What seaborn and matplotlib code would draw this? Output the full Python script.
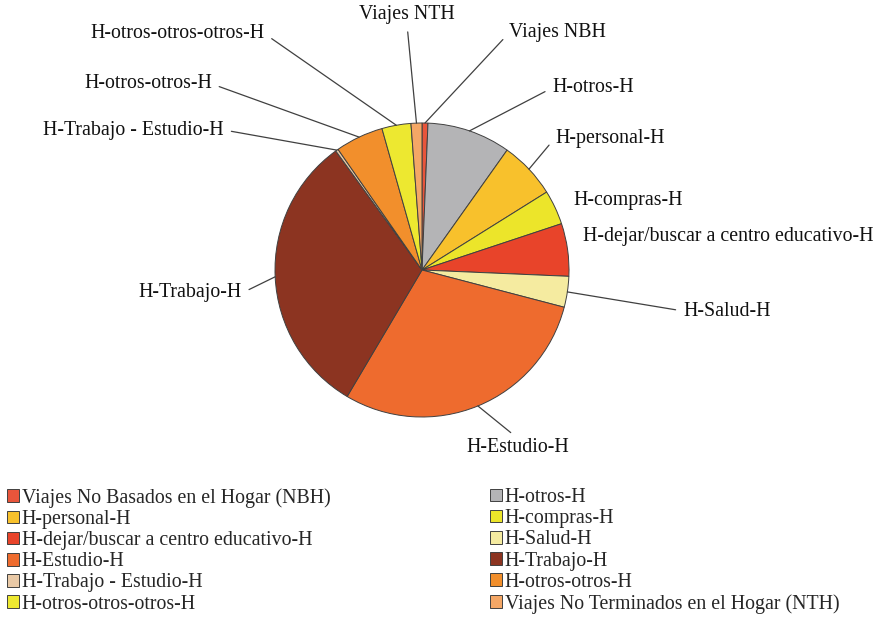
import numpy as np
import matplotlib
matplotlib.use("Agg")
import matplotlib.pyplot as plt
import seaborn as sns

# shares of trips (%), clockwise from 12 o'clock
categories = ["Viajes No Basados en el Hogar (NBH)", "H-otros-H", "H-personal-H",
              "H-compras-H", "H-dejar/buscar a centro educativo-H", "H-Salud-H",
              "H-Estudio-H", "H-Trabajo-H", "H-Trabajo - Estudio-H",
              "H-otros-otros-H", "H-otros-otros-otros-H",
              "Viajes No Terminados en el Hogar (NTH)"]
pie_labels = ["Viajes NBH", "H-otros-H", "H-personal-H", "H-compras-H",
              "H-dejar/buscar a centro educativo-H", "H-Salud-H", "H-Estudio-H",
              "H-Trabajo-H", "H-Trabajo - Estudio-H", "H-otros-otros-H",
              "H-otros-otros-otros-H", "Viajes NTH"]
shares = [0.65, 9.2, 6.3, 3.8, 5.8, 3.4, 29.5, 31.6, 0.3, 5.3, 3.2, 1.2]
colors = ["#e8553b", "#b4b4b6", "#f8c12c", "#ece52a", "#e8442a", "#f5eba0",
          "#ee6b2e", "#8c3421", "#e9c9a6", "#f28f2c", "#ede830", "#f4a766"]

# label placement (pixels, y from top), alignment and where the leader leaves the text
label_pos = [(509, 33), (552, 88), (555, 138), (573, 200), (583, 237), (683, 311),
             (518, 448), (242, 293), (224, 130), (212, 84), (265, 34), (407, 15)]
label_ha = ["left", "left", "left", "left", "left", "left",
            "center", "right", "right", "right", "right", "center"]
leader_rel = [(0, 0.5), (0, 0.5), (0, 0.5), None, None, (0, 0.5),
              (0.5, 1), (1, 0.5), (1, 0.5), (1, 0.5), (1, 0.5), (0.5, 0)]

sns.set_theme(style="white")
plt.rcParams["font.family"] = ["Liberation Serif", "DejaVu Serif"]

W, H = 882, 619
fs = 14.3
cx, cy, r = 422, H - 270, 147
line_col = "#404040"

fig = plt.figure(figsize=(W / 100, H / 100), dpi=100)
ax = fig.add_axes([0, 0, 1, 1])

wedges, _ = ax.pie(shares, colors=colors, startangle=90, counterclock=False,
                   center=(cx, cy), radius=r,
                   wedgeprops=dict(edgecolor=line_col, linewidth=0.7))
ax.set_xlim(0, W)
ax.set_ylim(0, H)
ax.set_aspect("equal")
ax.axis("off")

for w, lab, (tx, ty), ha, rp in zip(wedges, pie_labels, label_pos, label_ha, leader_rel):
    ang = np.deg2rad((w.theta1 + w.theta2) / 2)
    px, py = cx + r * np.cos(ang), cy + r * np.sin(ang)
    if rp is None:
        ax.text(tx, H - ty, lab, ha=ha, va="center", fontsize=fs, color="#111111")
    else:
        ax.annotate(lab, xy=(px, py), xytext=(tx, H - ty), ha=ha, va="center",
                    fontsize=fs, color="#111111",
                    arrowprops=dict(arrowstyle="-", color=line_col, lw=0.9,
                                    relpos=rp, shrinkA=3, shrinkB=0))

# legend, row-major in two columns
left_idx = [0, 2, 4, 6, 8, 10]
right_idx = [1, 3, 5, 7, 9, 11]
leg_kw = dict(loc="upper left", bbox_transform=fig.transFigure, frameon=False,
              borderpad=0, borderaxespad=0, handlelength=0.6, handleheight=0.6,
              handletextpad=0.15, labelspacing=0.11, fontsize=fs)
leg1 = ax.legend([wedges[i] for i in left_idx], [categories[i] for i in left_idx],
                 bbox_to_anchor=(7 / W, 1 - 488 / H), **leg_kw)
ax.add_artist(leg1)
ax.legend([wedges[i] for i in right_idx], [categories[i] for i in right_idx],
          bbox_to_anchor=(490 / W, 1 - 488 / H), **leg_kw)

fig.savefig("out.png", dpi=100)
